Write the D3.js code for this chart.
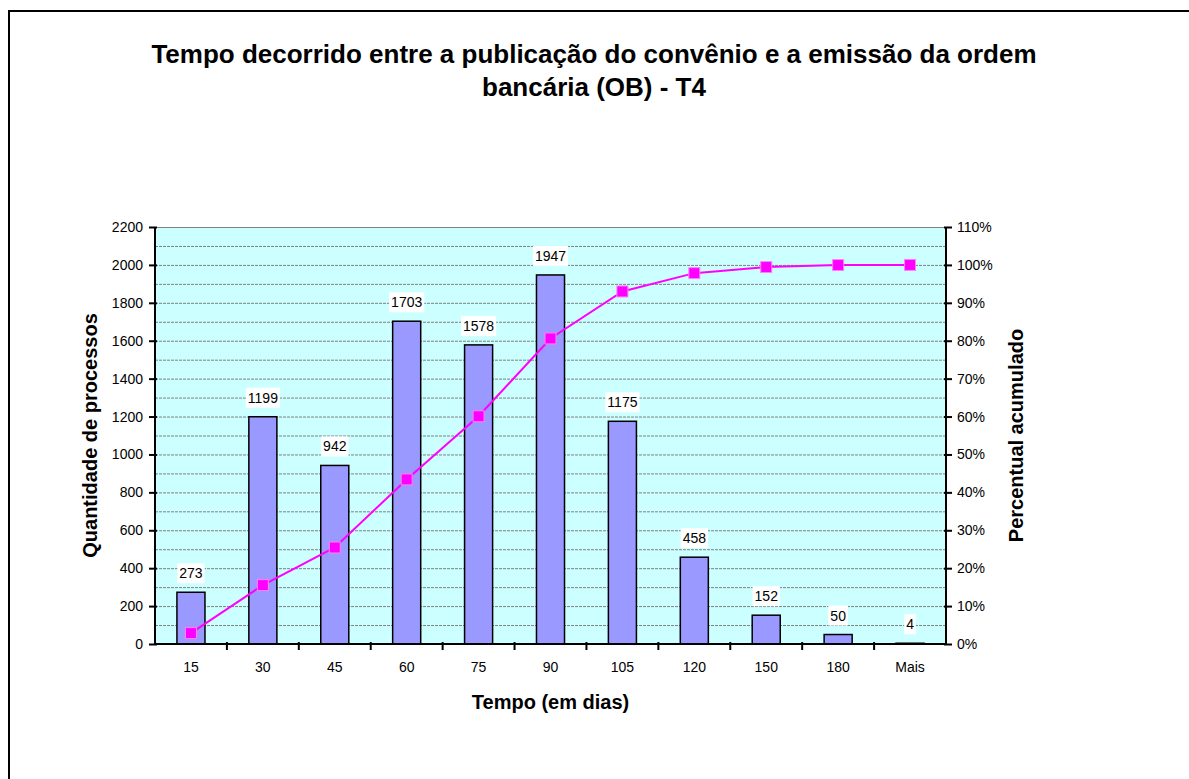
<!DOCTYPE html>
<html>
<head>
<meta charset="utf-8">
<script src="https://cdn.jsdelivr.net/npm/d3@7"></script>
<style>
  body { margin: 0; background: #fff; overflow: hidden; }
  svg { display: block; }
  text { font-family: "Liberation Sans", Arial, sans-serif; fill: #000; }
</style>
</head>
<body>
<div class="chart"></div>
<script>
// data
var categories = ["15", "30", "45", "60", "75", "90", "105", "120", "150", "180", "Mais"];
var counts = [273, 1199, 942, 1703, 1578, 1947, 1175, 458, 152, 50, 4];
var cumPercent = [2.88, 15.53, 25.46, 43.42, 60.07, 80.60, 93.00, 97.83, 99.43, 99.96, 100.00];
var countTicks = [0, 200, 400, 600, 800, 1000, 1200, 1400, 1600, 1800, 2000, 2200];
var pctTicks = [0, 10, 20, 30, 40, 50, 60, 70, 80, 90, 100, 110];

var svgWidth = 1189, svgHeight = 779;
var plot = { left: 155, right: 946, top: 227, bottom: 644 };

var svg = d3.select(".chart").append("svg")
  .attr("width", svgWidth)
  .attr("height", svgHeight);

// outer frame: only top and left edges show in the picture
svg.append("path")
  .attr("d", "M9," + svgHeight + "V11H" + svgWidth)
  .attr("fill", "none").attr("stroke", "#000").attr("stroke-width", 2);

// title
var title = svg.append("text")
  .attr("text-anchor", "middle")
  .attr("font-size", "26px")
  .attr("font-weight", "bold");
title.append("tspan").attr("x", 594).attr("y", 63)
  .text("Tempo decorrido entre a publicação do convênio e a emissão da ordem");
title.append("tspan").attr("x", 594).attr("y", 96)
  .text("bancária (OB) - T4");

// scales
var xScale = d3.scaleBand().domain(categories).range([plot.left, plot.right]);
var yScale = d3.scaleLinear().domain([0, 2200]).range([plot.bottom, plot.top]);
var pScale = d3.scaleLinear().domain([0, 110]).range([plot.bottom, plot.top]);

// plot background
svg.append("rect")
  .attr("x", plot.left).attr("y", plot.top)
  .attr("width", plot.right - plot.left).attr("height", plot.bottom - plot.top)
  .attr("fill", "#CCFFFF");

// gridlines every 100
var grid = d3.range(100, 2201, 100);
svg.append("g").selectAll("line")
  .data(grid)
  .enter()
  .append("line")
  .attr("x1", plot.left).attr("x2", plot.right)
  .attr("y1", function (d) { return yScale(d) + 0.5; })
  .attr("y2", function (d) { return yScale(d) + 0.5; })
  .attr("stroke", "#808080")
  .attr("stroke-width", 1)
  .attr("stroke-dasharray", function (d) { return d === 2200 ? null : "3,1"; });

// bars
var barW = xScale.bandwidth() * 0.39;
svg.append("g").selectAll("rect")
  .data(counts)
  .enter()
  .append("rect")
  .attr("x", function (d, i) { return xScale(categories[i]) + xScale.bandwidth() / 2 - barW / 2; })
  .attr("y", function (d) { return yScale(d); })
  .attr("width", barW)
  .attr("height", function (d) { return plot.bottom - yScale(d); })
  .attr("fill", "#9999FF")
  .attr("stroke", "#000")
  .attr("stroke-width", 1.5);

// cumulative line
var line = d3.line()
  .x(function (d, i) { return xScale(categories[i]) + xScale.bandwidth() / 2; })
  .y(function (d) { return pScale(d); });

svg.append("path")
  .datum(cumPercent)
  .attr("d", line)
  .attr("fill", "none")
  .attr("stroke", "#FF00FF")
  .attr("stroke-width", 2);

svg.append("g").selectAll("rect")
  .data(cumPercent)
  .enter()
  .append("rect")
  .attr("x", function (d, i) { return xScale(categories[i]) + xScale.bandwidth() / 2 - 5.5; })
  .attr("y", function (d) { return pScale(d) - 5.5; })
  .attr("width", 11).attr("height", 11)
  .attr("fill", "#FF00FF")
  .attr("stroke", "#FF80FF")
  .attr("stroke-width", 1);

// value labels with white boxes
var labels = svg.append("g").selectAll("g")
  .data(counts)
  .enter()
  .append("g")
  .attr("transform", function (d, i) {
    return "translate(" + (xScale(categories[i]) + xScale.bandwidth() / 2) + "," + (yScale(d) - 19) + ")";
  });
labels.append("text")
  .attr("text-anchor", "middle")
  .attr("dy", "0.36em")
  .attr("font-size", "14px")
  .text(function (d) { return d; })
  .each(function () {
    var w = this.getComputedTextLength();
    d3.select(this.parentNode).insert("rect", "text")
      .attr("x", -w / 2 - 2).attr("y", -10)
      .attr("width", w + 4).attr("height", 20)
      .attr("fill", "#fff");
  });

// left axis
var yAxis = svg.append("g")
  .attr("transform", "translate(" + plot.left + ",0)")
  .call(d3.axisLeft(yScale).tickValues(countTicks).tickSize(6).tickPadding(6)
    .tickFormat(d3.format("d")));
yAxis.selectAll("text").attr("font-size", "14px").attr("font-family", null);

// right axis
var pAxis = svg.append("g")
  .attr("transform", "translate(" + plot.right + ",0)")
  .call(d3.axisRight(pScale).tickValues(pctTicks).tickSize(6).tickPadding(5)
    .tickFormat(function (d) { return d + "%"; }));
pAxis.selectAll("text").attr("font-size", "14px").attr("font-family", null);

// bottom axis: labels at band centres, ticks at band edges
var xAxis = svg.append("g")
  .attr("transform", "translate(0," + plot.bottom + ")")
  .call(d3.axisBottom(xScale).tickSize(0).tickPadding(18));
xAxis.selectAll("text").attr("font-size", "14px").attr("font-family", null);
xAxis.selectAll(".tick").selectAll("line").remove();
xAxis.selectAll(".x-edge")
  .data(categories.slice(1))
  .enter()
  .append("line")
  .attr("class", "x-edge")
  .attr("x1", function (d) { return xScale(d); })
  .attr("x2", function (d) { return xScale(d); })
  .attr("y1", -2).attr("y2", 6)
  .attr("stroke", "#000").attr("stroke-width", 2);

// styling shared by the axes
[yAxis, pAxis, xAxis].forEach(function (ax) {
  ax.select(".domain").attr("stroke", "#000").attr("stroke-width", 2);
  ax.selectAll(".tick line").attr("stroke", "#000").attr("stroke-width", 2);
});
yAxis.selectAll(".tick line").attr("x1", 2);
pAxis.selectAll(".tick line").attr("x1", -2);
xAxis.select(".domain").attr("d", "M" + plot.left + ",0H" + plot.right);
yAxis.select(".domain").attr("d", "M0," + plot.top + "V" + plot.bottom);
pAxis.select(".domain").attr("d", "M0," + plot.top + "V" + plot.bottom);

// axis titles
svg.append("text")
  .attr("x", (plot.left + plot.right) / 2).attr("y", 709)
  .attr("text-anchor", "middle")
  .attr("font-size", "20px").attr("font-weight", "bold")
  .text("Tempo (em dias)");

svg.append("text")
  .attr("transform", "translate(97," + (plot.top + plot.bottom) / 2 + ")rotate(-90)")
  .attr("text-anchor", "middle")
  .attr("font-size", "20px").attr("font-weight", "bold")
  .text("Quantidade de processos");

svg.append("text")
  .attr("transform", "translate(1023," + (plot.top + plot.bottom) / 2 + ")rotate(-90)")
  .attr("text-anchor", "middle")
  .attr("font-size", "20px").attr("font-weight", "bold")
  .text("Percentual acumulado");
</script>
</body>
</html>
